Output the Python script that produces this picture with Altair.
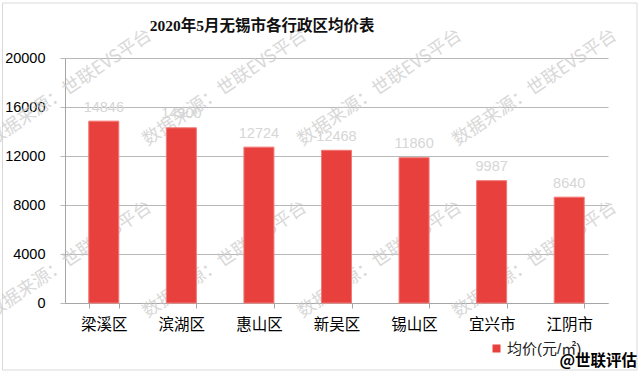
import altair as alt
import pandas as pd

# ---- data ----
districts = ["梁溪区", "滨湖区", "惠山区", "新吴区", "锡山区", "宜兴市", "江阴市"]
prices = [14846, 14300, 12724, 12468, 11860, 9987, 8640]
series_name = "均价(元/㎡)"
y_ticks = [0, 4000, 8000, 12000, 16000, 20000]
title_text = "2020年5月无锡市各行政区均价表"
watermark_text = "数据来源：世联EVS平台"
credit_text = "@世联评估"

# ---- layout (pixels, relative to plot area origin) ----
W, H = 543, 245
PAD = {"left": 65, "top": 58, "right": 32, "bottom": 70}
wm_xs = [5, 160, 315, 470]
wm_ys = [30, 202]

FONT = "Liberation Sans, Arial, Noto Sans CJK SC, sans-serif"
BAR = "#E8403D"

df = pd.DataFrame({"区域": districts, "均价": prices, "系列": [series_name] * len(districts)})

x_enc = alt.X("区域:N", sort=districts,
              scale=alt.Scale(paddingInner=0.613, paddingOuter=0.3065),
              axis=alt.Axis(title=None, labelAngle=0, tickBand="extent", tickSize=5,
                            labelPadding=9, labelFontSize=15.5, labelFont=FONT,
                            labelColor="#000000", grid=False,
                            domainColor="#a6a6a6", tickColor="#a6a6a6"))
y_enc = alt.Y("均价:Q", scale=alt.Scale(domain=[0, 20000], nice=False),
              axis=alt.Axis(title=None, values=y_ticks, format="d", tickSize=5,
                            labelPadding=15, labelFontSize=14.5, labelFont=FONT,
                            labelColor="#000000", grid=True, gridColor="#b8b8b8",
                            domainColor="#a6a6a6", tickColor="#b8b8b8"))

one = pd.DataFrame({"t": ["x"]})

frame = alt.Chart(one).mark_rect(fillOpacity=0, stroke="#d9d9d9", strokeWidth=1).encode(
    x=alt.value(-62.5), x2=alt.value(572), y=alt.value(-55), y2=alt.value(312))

wm_layers = []
for yy in wm_ys:
    for xx in wm_xs:
        wm_layers.append(
            alt.Chart(pd.DataFrame({"t": [watermark_text]})).mark_text(
                font="Noto Sans CJK SC", fontSize=18, color="#cccccc", opacity=0.75,
                angle=326, align="center", baseline="middle").encode(
                text="t:N", x=alt.value(xx), y=alt.value(yy)))

bars = alt.Chart(df).mark_bar(stroke="#F27A77", strokeWidth=1).encode(
    x=x_enc, y=y_enc,
    color=alt.Color("系列:N", scale=alt.Scale(range=[BAR]),
                    legend=alt.Legend(title=None, orient="none", legendX=424, legendY=283,
                                      symbolType="square", symbolSize=64, symbolStrokeWidth=0,
                                      labelFontSize=15, labelFont=FONT, labelColor="#222222",
                                      labelOffset=3, padding=0)))

labels = alt.Chart(df).mark_text(dy=-9.5, baseline="alphabetic", fontSize=14.5,
                                 font=FONT, color="#d6d6d6").encode(
    x=alt.X("区域:N", sort=districts), y="均价:Q", text="均价:Q")

title = alt.Chart(pd.DataFrame({"t": [title_text]})).mark_text(
    font="Liberation Serif, Noto Sans CJK SC, serif", fontSize=15.5, fontWeight="bold",
    color="#111111", align="center", baseline="middle").encode(
    text="t:N", x=alt.value(197), y=alt.value(-32))

credit = alt.Chart(pd.DataFrame({"t": [credit_text]})).mark_text(
    font="Noto Sans CJK SC", fontSize=15.5, fontWeight="bold", color="#000000",
    align="right", baseline="middle").encode(
    text="t:N", x=alt.value(572), y=alt.value(303))

chart = alt.layer(frame, *wm_layers, bars, labels, title, credit).properties(
    width=W, height=H,
    autosize=alt.AutoSizeParams(type="none"),
    padding=PAD,
    background="#ffffff",
).configure_view(stroke=None)

chart.save("out.html", embed_options={"renderer": "svg", "actions": False})
